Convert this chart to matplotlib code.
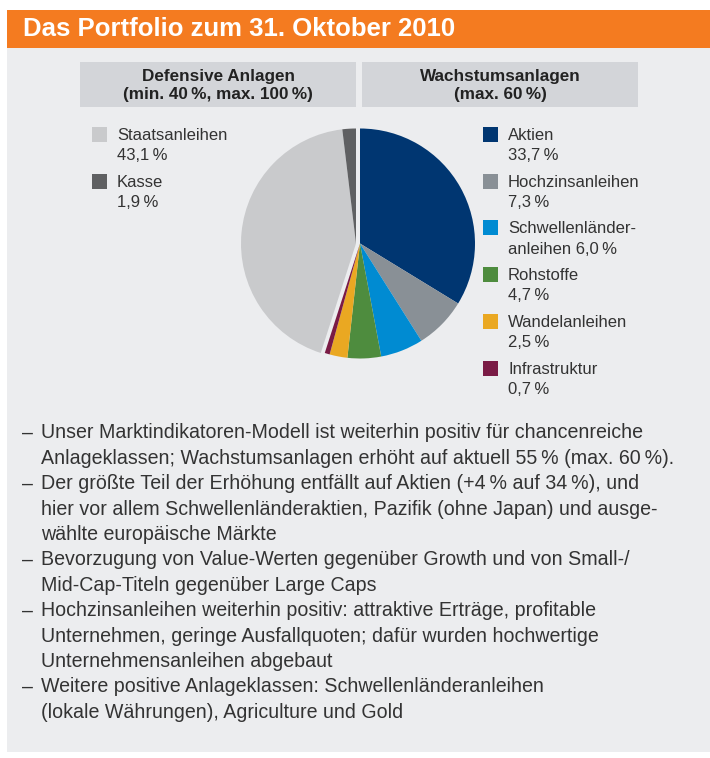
import matplotlib
matplotlib.use("Agg")
import matplotlib.pyplot as plt
from matplotlib.patches import Rectangle

# ----------------------------
# Data
# ----------------------------
title = "Das Portfolio zum 31. Oktober 2010"

groups = ["Defensive Anlagen\n(min. 40\u2009%, max. 100\u2009%)",
          "Wachstumsanlagen\n(max. 60\u2009%)"]

# pie order: clockwise from 12 o'clock
labels = ["Aktien", "Hochzinsanleihen", "Schwellenländer-\nanleihen", "Rohstoffe",
          "Wandelanleihen", "Infrastruktur", "Staatsanleihen", "Kasse"]
values = [33.7, 7.3, 6.0, 4.7, 2.5, 0.7, 43.1, 1.9]
colors = ["#003671", "#899096", "#008BD2", "#4E8C3E", "#EAA822", "#7A1B45",
          "#C9CACC", "#5F6062"]
kind = ["w", "w", "w", "w", "w", "w", "d", "d"]   # w = Wachstum, d = Defensiv

bullets = [
    "Unser Marktindikatoren-Modell ist weiterhin positiv für chancenreiche\n"
    "Anlageklassen; Wachstumsanlagen erhöht auf aktuell 55\u2009% (max. 60\u2009%).",
    "Der größte Teil der Erhöhung entfällt auf Aktien (+4\u2009% auf 34\u2009%), und\n"
    "hier vor allem Schwellenländeraktien, Pazifik (ohne Japan) und ausge-\n"
    "wählte europäische Märkte",
    "Bevorzugung von Value-Werten gegenüber Growth und von Small-/\n"
    "Mid-Cap-Titeln gegenüber Large Caps",
    "Hochzinsanleihen weiterhin positiv: attraktive Erträge, profitable\n"
    "Unternehmen, geringe Ausfallquoten; dafür wurden hochwertige\n"
    "Unternehmensanleihen abgebaut",
    "Weitere positive Anlageklassen: Schwellenländeranleihen\n"
    "(lokale Währungen), Agriculture und Gold",
]

# ----------------------------
# Layout (pixels, y measured from top)
# ----------------------------
W, H = 710, 758
plt.rcParams["font.family"] = ["Liberation Sans", "DejaVu Sans"]
TXT = "#333333"

def Y(y):
    return H - y

fig = plt.figure(figsize=(W / 100, H / 100), dpi=100)
fig.patch.set_facecolor("white")
ax = fig.add_axes([0, 0, 1, 1])

# panel + header band
ax.add_patch(Rectangle((7, Y(752)), W - 7, 752 - 48, color="#ECEDEF", lw=0))
ax.add_patch(Rectangle((7, Y(48)), W - 7, 38, color="#F47B20", lw=0))
ax.text(23, Y(29), title, color="white", fontsize=18.5, fontweight="bold",
        va="center", ha="left")

# group boxes
for i, g in enumerate(groups):
    x0 = 80 + i * 282
    ax.add_patch(Rectangle((x0, Y(107)), 276, 45, color="#D3D5D9", lw=0))
    ax.text(x0 + 138, Y(85.5), g, ha="center", va="center", fontsize=12.3,
            fontweight="bold", color="#222222", linespacing=1.2)

# pie
cx, cy, r = 360, Y(243.5), 115
wedges, _ = ax.pie(values, colors=colors, startangle=90, counterclock=False,
                   center=(cx, cy), radius=r, frame=True,
                   wedgeprops=dict(linewidth=0))
for w, k in zip(wedges, kind):
    if k == "d":
        w.set_center((cx - 4, cy))

# legends
def fmt(v):
    return f"{v:.1f}".replace(".", ",") + "\u2009%"

def legend_item(x, y, lab, val, col):
    ax.add_patch(Rectangle((x, Y(y + 15)), 15, 15, color=col, lw=0))
    if "\n" in lab:
        txt = lab + " " + fmt(val)
    else:
        txt = lab + "\n" + fmt(val)
    ax.text(x + 25, Y(y + 1), txt, ha="left", va="top", fontsize=12,
            color=TXT, linespacing=1.45)

right_i = 0
left_i = 0
for lab, val, col, k in zip(labels, values, colors, kind):
    if k == "w":
        legend_item(483, 127 + right_i * 46.7, lab, val, col)
        right_i += 1
    else:
        legend_item(92, 127 + left_i * 46.7, lab, val, col)
        left_i += 1

# bullet text
y = 433
for b in bullets:
    lines = b.split("\n")
    for j, line in enumerate(lines):
        if j == 0:
            ax.text(22, Y(y), "\u2013", ha="left", va="center", fontsize=14.1, color=TXT)
        ax.text(41, Y(y), line, ha="left", va="center", fontsize=14.1, color=TXT)
        y += 25.4

ax.set_xlim(0, W)
ax.set_ylim(0, H)
ax.set_aspect("equal")
ax.axis("off")

fig.savefig("out.png", dpi=100)
